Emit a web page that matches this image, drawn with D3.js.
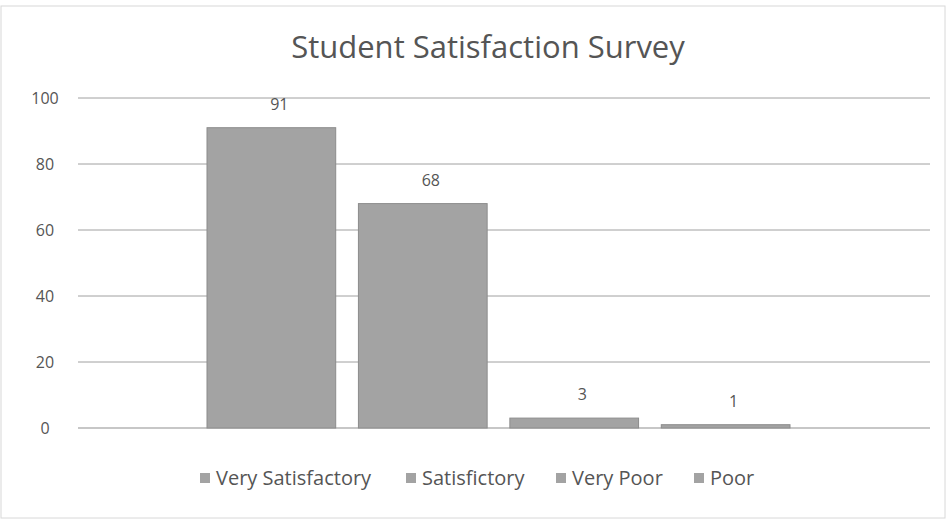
<!DOCTYPE html>
<html><head><meta charset="utf-8">
<script src="https://cdn.jsdelivr.net/npm/d3@7"></script>
<style>body{margin:0;background:#fff}svg{display:block}</style>
</head><body>
<svg id="c" width="947" height="520"></svg>
<script>
const series = ["Very Satisfactory", "Satisfictory", "Very Poor", "Poor"];
const values = [91, 68, 3, 1];
const yTicks = [0, 20, 40, 60, 80, 100];
const title = "Student Satisfaction Survey";

const svg = d3.select("#c");
const font = "'Open Sans', 'Noto Sans', sans-serif";
svg.append("rect").attr("x",1).attr("y",6).attr("width",944).attr("height",512)
  .attr("fill","#fff").attr("stroke","#d8d8d8");

const plotL = 78, plotR = 930;
const y = d3.scaleLinear().domain([0,100]).range([428, 98]);
const x = d3.scaleBand().domain(series).range([207, 790]).paddingInner(0.15).paddingOuter(0);

// gridlines
svg.append("g").selectAll("line").data(yTicks).join("line")
  .attr("x1", plotL).attr("x2", plotR)
  .attr("y1", d => y(d)).attr("y2", d => y(d))
  .attr("stroke", d => d === 0 ? "#8f8f8f" : "#a0a0a0").attr("stroke-width", 1);

// y axis labels
const yAxis = d3.axisLeft(y).tickValues(yTicks).tickSize(0).tickPadding(0);
const ga = svg.append("g").attr("transform","translate(45,0)").call(yAxis);
ga.select(".domain").remove();
ga.selectAll("text").attr("text-anchor","middle").attr("font-family",font)
  .attr("font-size",16).attr("fill","#555").attr("dy","0.32em");

// bars
svg.append("g").selectAll("rect").data(values).join("rect")
  .attr("x", (d,i) => x(series[i]))
  .attr("width", x.bandwidth())
  .attr("y", d => y(d))
  .attr("height", d => y(0) - y(d))
  .attr("fill", "#a3a3a3").attr("stroke","#8c8c8c").attr("stroke-width",1);

// data labels
svg.append("g").selectAll("text").data(values).join("text")
  .attr("x", (d,i) => x(series[i]) + x.bandwidth()/2 + 8)
  .attr("y", d => y(d) - 18)
  .attr("text-anchor","middle").attr("font-family",font)
  .attr("font-size",16).attr("fill","#555").text(d => d);

// title
svg.append("text").attr("x", 488).attr("y", 58).attr("text-anchor","middle")
  .attr("font-family",font).attr("font-size",31).attr("fill","#555").text(title);

// legend
const legX = [200, 406, 556, 694];
const lg = svg.append("g").selectAll("g").data(series).join("g")
  .attr("transform", (d,i) => `translate(${legX[i]},478)`);
lg.append("rect").attr("x",0).attr("y",-5).attr("width",10).attr("height",10)
  .attr("fill","#a3a3a3");
lg.append("text").attr("x",16).attr("y",0).attr("dy","0.35em")
  .attr("font-family",font).attr("font-size",20).attr("fill","#555").text(d => d);
</script>
</body></html>
